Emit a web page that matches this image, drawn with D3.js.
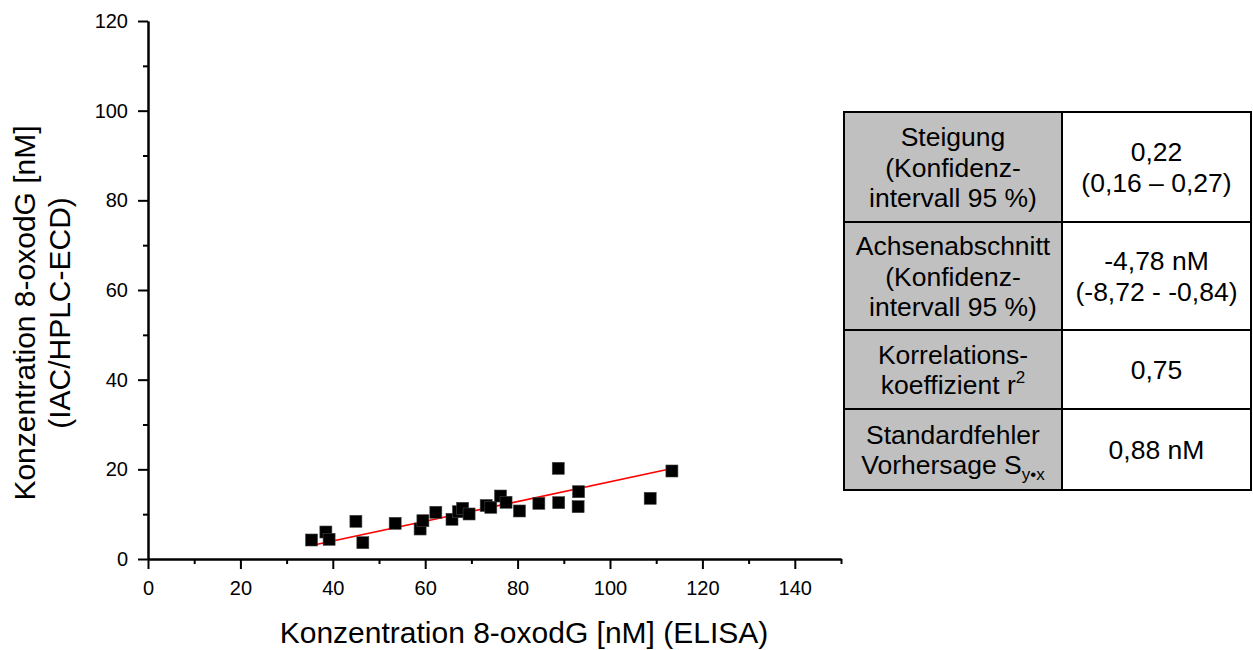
<!DOCTYPE html>
<html>
<head>
<meta charset="utf-8">
<script src="https://cdn.jsdelivr.net/npm/d3@7"></script>
<style>
  html, body { margin: 0; padding: 0; background: #fff; }
  svg { display: block; font-family: "Liberation Sans", Arial, sans-serif; }
</style>
</head>
<body>
<svg id="chart" width="1253" height="650"></svg>
<script>
// ELISA vs. IAC/HPLC-ECD measurements of 8-oxodG (nM)
const elisa = [35.4, 38.5, 39.2, 45.0, 46.5, 53.5, 58.9, 59.5, 62.3, 65.8, 67.2, 68.1, 69.5,
               73.2, 74.2, 76.3, 77.5, 80.4, 84.6, 88.8, 88.9, 93.2, 93.1, 108.7, 113.4];
const hplc  = [4.24, 6.02, 4.39, 8.41, 3.64, 7.96, 6.69, 8.54, 10.42, 8.86, 10.55, 11.31, 10.04,
               11.93, 11.53, 14.05, 12.65, 10.71, 12.42, 20.23, 12.56, 15.01, 11.67, 13.54, 19.63];

// Linear regression result
const slope = 0.22;
const intercept = -4.78;

// Axis ticks
const xMajorTicks = [0, 20, 40, 60, 80, 100, 120, 140];
const xMinorTicks = [10, 30, 50, 70, 90, 110, 130, 150];
const yMajorTicks = [0, 20, 40, 60, 80, 100, 120];
const yMinorTicks = [10, 30, 50, 70, 90, 110];

// Statistics table rows: [label lines, value lines]
const tableLabels = [
  ["Steigung", "(Konfidenz-", "intervall 95 %)"],
  ["Achsenabschnitt", "(Konfidenz-", "intervall 95 %)"],
  ["Korrelations-", "koeffizient r²"],
  ["Standardfehler", "Vorhersage S_y•x"]
];
const tableValues = [
  ["0,22", "(0,16 – 0,27)"],
  ["-4,78 nM", "(-8,72 - -0,84)"],
  ["0,75"],
  ["0,88 nM"]
];

const svg = d3.select("#chart");

const x = d3.scaleLinear().domain([0, 150]).range([148, 841]);
const y = d3.scaleLinear().domain([0, 120]).range([559, 21]);

// Axes
function styleAxis(g) {
  g.selectAll(".domain").attr("stroke", "#000").attr("stroke-width", 2);
  g.selectAll(".tick line").attr("stroke", "#000").attr("stroke-width", 2);
  g.selectAll(".tick text").attr("fill", "#000").style("font-size", "20px")
    .style("font-family", "'Liberation Sans', Arial, sans-serif");
}

svg.append("g")
  .attr("transform", `translate(0,${y(0)})`)
  .call(d3.axisBottom(x).tickValues(xMinorTicks).tickSize(5).tickFormat("").tickSizeOuter(0))
  .call(styleAxis);
svg.append("g")
  .attr("transform", `translate(0,${y(0)})`)
  .call(d3.axisBottom(x).tickValues(xMajorTicks).tickSize(10).tickPadding(12).tickSizeOuter(0))
  .call(styleAxis);

svg.append("g")
  .attr("transform", `translate(${x(0)},0)`)
  .call(d3.axisLeft(y).tickValues(yMinorTicks).tickSize(5).tickFormat("").tickSizeOuter(0))
  .call(styleAxis);
svg.append("g")
  .attr("transform", `translate(${x(0)},0)`)
  .call(d3.axisLeft(y).tickValues(yMajorTicks).tickSize(10).tickPadding(10).tickSizeOuter(0))
  .call(styleAxis);

// Axis titles
svg.append("text")
  .attr("x", 524).attr("y", 643)
  .attr("text-anchor", "middle")
  .style("font-size", "30px")
  .text("Konzentration 8-oxodG [nM] (ELISA)");

const yTitle = svg.append("text")
  .attr("transform", "translate(35,313) rotate(-90)")
  .attr("text-anchor", "middle")
  .style("font-size", "30px");
yTitle.append("tspan").attr("x", 0).attr("y", 0).text("Konzentration 8-oxodG [nM]");
yTitle.append("tspan").attr("x", 0).attr("y", 35).text("(IAC/HPLC-ECD)");

// Regression line over the measured range
const xr = d3.extent(elisa);
svg.append("line")
  .attr("x1", x(xr[0])).attr("y1", y(slope * xr[0] + intercept))
  .attr("x2", x(xr[1])).attr("y2", y(slope * xr[1] + intercept))
  .attr("stroke", "#ff0000").attr("stroke-width", 1.6);

// Data points as squares
const size = 12;
svg.append("g").selectAll("rect")
  .data(elisa.map((v, i) => [v, hplc[i]]))
  .join("rect")
  .attr("x", d => x(d[0]) - size / 2)
  .attr("y", d => y(d[1]) - size / 2)
  .attr("width", size).attr("height", size)
  .attr("fill", "#000")
  .attr("stroke", "#444").attr("stroke-width", 0.6);

// Statistics table
const colX = [844, 1062, 1251];
const rowY = [112, 222, 330, 409, 490];
const fs = 26.5, lh = 30.6;
const table = svg.append("g");

tableLabels.forEach((lines, i) => {
  table.append("rect")
    .attr("x", colX[0]).attr("y", rowY[i])
    .attr("width", colX[1] - colX[0]).attr("height", rowY[i + 1] - rowY[i])
    .attr("fill", "#c0c0c0");
});

function writeCell(lines, cx, y0, y1) {
  const cy = (y0 + y1) / 2;
  const first = cy + fs * 0.36 - (lines.length - 1) * lh / 2;
  lines.forEach((line, k) => {
    const t = table.append("text")
      .attr("x", cx).attr("y", first + k * lh)
      .attr("text-anchor", "middle")
      .style("font-size", fs + "px");
    if (line.includes("_")) {
      const [base, sub] = line.split("_");
      t.append("tspan").text(base);
      t.append("tspan").attr("dy", 6).style("font-size", "17px").text(sub);
    } else if (line.endsWith("²")) {
      t.append("tspan").text(line.slice(0, -1));
      t.append("tspan").attr("dy", -11).style("font-size", "17px").text("2");
    } else {
      t.text(line);
    }
  });
}

tableLabels.forEach((lines, i) => writeCell(lines, (colX[0] + colX[1]) / 2, rowY[i], rowY[i + 1]));
tableValues.forEach((lines, i) => writeCell(lines, (colX[1] + colX[2]) / 2, rowY[i], rowY[i + 1]));

// Grid lines of the table
const grid = table.append("g").attr("stroke", "#000").attr("stroke-width", 2);
rowY.forEach(yy => grid.append("line").attr("x1", colX[0]).attr("x2", colX[2]).attr("y1", yy).attr("y2", yy));
colX.forEach(xx => grid.append("line").attr("x1", xx).attr("x2", xx).attr("y1", rowY[0] - 1).attr("y2", rowY[rowY.length - 1] + 1));
</script>
</body>
</html>
